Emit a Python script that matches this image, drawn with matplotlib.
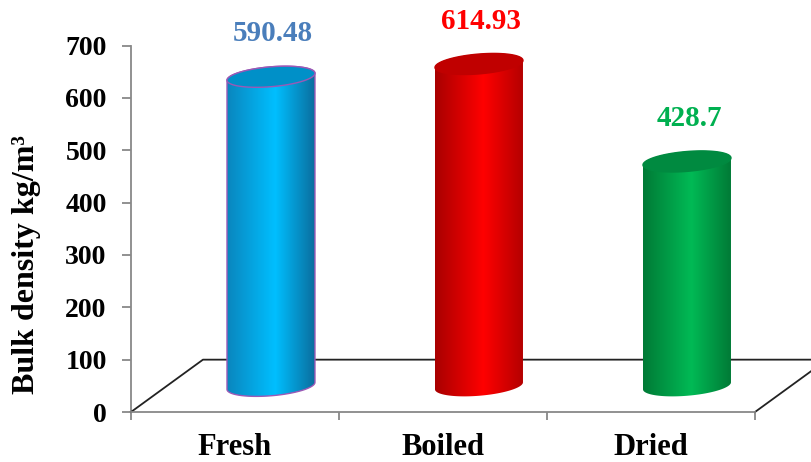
import numpy as np
import matplotlib.pyplot as plt
from matplotlib.patches import Polygon
from matplotlib.colors import LinearSegmentedColormap

categories = ["Fresh", "Boiled", "Dried"]
values = [590.48, 614.93, 428.7]
labels = ["590.48", "614.93", "428.7"]
label_colors = ["#4A7EBB", "#FF0000", "#00B050"]
# edge / middle / edge shades for each cylinder
body_shades = [["#0A86BE", "#00BFFF", "#0A6E9E"],
               ["#A80000", "#FF0000", "#B40000"],
               ["#007A36", "#00BA55", "#007A36"]]
top_colors = ["#0090C8", "#C00000", "#008A40"]
outline_colors = ["#9B59B6", "none", "none"]

plt.rcParams['font.family'] = ['Liberation Serif', 'DejaVu Serif']
plt.rcParams['font.weight'] = 'bold'

fig = plt.figure(figsize=(8.12, 4.62), dpi=100)
W, H = 812, 462
ax = fig.add_axes([131 / W, (H - 412) / H, (755 - 131) / W, (412 - 45.6) / H])
ax.set_xlim(-0.5, 2.5)
ax.set_ylim(0, 700)

# depth offset of the floor (x in category units, y in data units)
ddx, ddy = 0.346, 100

# floor
floor = Polygon([(-0.5, 0), (-0.5 + ddx, ddy), (2.5 + ddx, ddy), (2.5, 0)],
                closed=True, facecolor="white", edgecolor="none", clip_on=False, zorder=1)
ax.add_patch(floor)
ax.plot([-0.5, -0.5 + ddx, 2.5 + ddx], [0, ddy, ddy], color="#222222", lw=1.3,
        clip_on=False, zorder=2)
ax.plot([2.5, 2.5 + ddx], [0, ddy], color="#222222", lw=1.3, clip_on=False, zorder=2)

a = 0.2115   # half width of cylinder
b = 19.0     # vertical half axis of ellipse
c = 6.7      # tilt of ellipse
t = np.linspace(0, 2 * np.pi, 200)

for i, (v, shades) in enumerate(zip(values, body_shades)):
    cx = i + ddx / 2
    y0 = ddy / 2
    y1 = y0 + v
    # body outline: lower half of bottom ellipse then upper half of top ellipse
    tb = np.linspace(np.pi, 2 * np.pi, 100)
    tt = np.linspace(0, np.pi, 100)
    xs = np.concatenate([cx + a * np.cos(tb), cx + a * np.cos(tt)])
    ys = np.concatenate([y0 + b * np.sin(tb) + c * np.cos(tb),
                         y1 + b * np.sin(tt) + c * np.cos(tt)])
    body = Polygon(np.column_stack([xs, ys]), closed=True, facecolor="none",
                   edgecolor="none", zorder=3)
    ax.add_patch(body)
    cmap = LinearSegmentedColormap.from_list("c%d" % i,
                                             [(0, shades[0]), (0.55, shades[1]), (1, shades[2])])
    grad = np.linspace(0, 1, 256).reshape(1, -1)
    im = ax.imshow(grad, cmap=cmap, aspect="auto", extent=[cx - a, cx + a, y0 - 30, y1 + 30],
                   zorder=3, interpolation="bilinear")
    im.set_clip_path(body)
    if outline_colors[i] != "none":
        ax.add_patch(Polygon(np.column_stack([xs, ys]), closed=True, facecolor="none",
                             edgecolor=outline_colors[i], lw=1.0, zorder=4))
    top = Polygon(np.column_stack([cx + a * np.cos(t), y1 + b * np.sin(t) + c * np.cos(t)]),
                  closed=True, facecolor=top_colors[i],
                  edgecolor=outline_colors[i] if outline_colors[i] != "none" else top_colors[i],
                  lw=1.0, zorder=5)
    ax.add_patch(top)
    ax.text(cx + 0.01, y1 + 82, labels[i], color=label_colors[i], fontsize=21,
            fontweight="bold", ha="center", va="center", zorder=6, clip_on=False)

ax.set_xlim(-0.5, 2.5)
ax.set_ylim(0, 700)

for s in ["top", "right"]:
    ax.spines[s].set_visible(False)
ax.spines["left"].set_color("#888888")
ax.spines["bottom"].set_color("#888888")
ax.spines["left"].set_linewidth(1.3)
ax.spines["bottom"].set_linewidth(1.3)
ax.spines["left"].set_zorder(0)

ax.set_yticks(np.arange(0, 701, 100))
ax.tick_params(axis="y", length=6.5, width=1.3, color="#888888", pad=11, labelsize=20)
ax.set_xticks(range(len(categories)))
ax.set_xticklabels(categories, fontsize=22, fontweight="bold")
ax.set_xticks([-0.5, 0.5, 1.5, 2.5], minor=True)
ax.tick_params(axis="x", which="major", length=0, pad=15)
ax.tick_params(axis="x", which="minor", length=6, width=1.3, color="#888888")
for lab in ax.get_yticklabels():
    lab.set_fontweight("bold")

fig.text(27 / W, 1 - 265 / H, "Bulk density kg/m\u00b3", rotation=90, fontsize=23,
         fontweight="bold", ha="center", va="center")

fig.savefig("out.png", dpi=100)
